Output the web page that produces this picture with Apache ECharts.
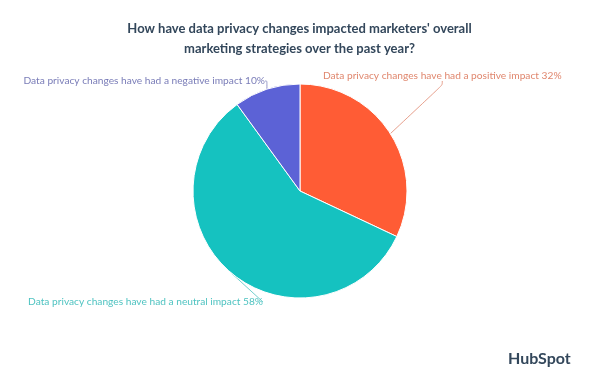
<!DOCTYPE html>
<html><head><meta charset="utf-8">
<script src="https://cdn.jsdelivr.net/npm/echarts@6/dist/echarts.min.js"></script>
<style>html,body{margin:0;padding:0;background:#fff}#c{width:599px;height:382px}</style>
</head><body><div id="c"></div>
<script>
const categories = ['Data privacy changes have had a positive impact', 'Data privacy changes have had a neutral impact', 'Data privacy changes have had a negative impact'];
const values = [32, 58, 10];
const colors = ['#FF5C35', '#15C2C0', '#5C62D6'];
const labelColors = ['#E0876E', '#4FC3C1', '#7A7DB8'];

const chart = echarts.init(document.getElementById('c'));
chart.setOption({
  backgroundColor: '#fff',
  title: {
    text: "How have data privacy changes impacted marketers' overall\nmarketing strategies over the past year?",
    left: 'center', top: 14,
    textStyle: { fontFamily: 'Lato', fontSize: 13, fontWeight: 'bold', color: '#33475B', lineHeight: 20 }
  },
  graphic: [{
    type: 'text', left: 508, top: 351,
    style: { text: 'HubSpot', fontFamily: 'Lato', fontSize: 16, fontWeight: 'bold', fill: '#33475B' }
  }],
  series: [{
    type: 'pie',
    center: [300, 191],
    radius: 107,
    startAngle: 90,
    clockwise: true,
    data: categories.map((n, i) => ({
      name: n, value: values[i],
      itemStyle: { color: colors[i] },
      label: { color: labelColors[i] },
      labelLine: { lineStyle: { color: labelColors[i] } }
    })),
    itemStyle: { borderColor: '#fff', borderWidth: 1 },
    label: {
      formatter: '{b} {c}%',
      fontFamily: 'Lato', fontSize: 10.2,
      overflow: 'none', width: 400
    },
    labelLine: { show: true, length: 6, length2: 4, smooth: 0.3, lineStyle: { width: 0.8 } },
    labelLayout: function (p) {
      if (p.dataIndex === 0) return { x: 323, y: 76, align: 'left', verticalAlign: 'middle' };
      if (p.dataIndex === 1) return { x: 263, y: 302, align: 'right', verticalAlign: 'middle' };
      return { x: 265, y: 81, align: 'right', verticalAlign: 'middle' };
    }
  }]
});
</script></body></html>
